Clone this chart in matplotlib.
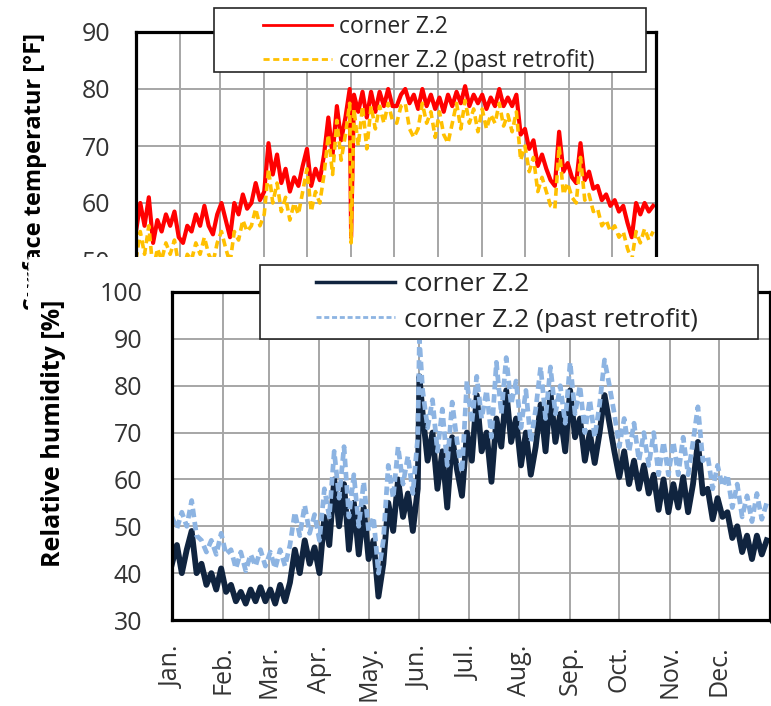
import numpy as np
import matplotlib
matplotlib.use("Agg")
import matplotlib.pyplot as plt
from matplotlib.patches import Rectangle
from matplotlib.lines import Line2D

plt.rcParams['font.family'] = ['Open Sans', 'DejaVu Sans']

W, H = 771, 706

days = np.arange(0, 366, 3)
month_start = [0, 31, 59, 90, 120, 151, 181, 212, 243, 273, 304, 334, 365]
month_names = ['Jan.', 'Feb.', 'Mar.', 'Apr.', 'May.', 'Jun.', 'Jul.',
               'Aug.', 'Sep.', 'Oct.', 'Nov.', 'Dec.']

temp_base = [
    55, 60, 56, 61, 53, 57, 55, 58, 56, 58.5,
    54, 53, 56, 55, 58, 56, 59.5, 56, 54.5, 58,
    60, 57, 54, 60, 58, 61.5, 59, 60, 63.5, 60.5,
    62, 70.5, 65, 68.5, 63.5, 66, 62, 64.5, 63, 66.5,
    69.5, 63, 66, 64, 68.5, 75, 68.5, 77, 71, 75,
    80, 79, 76, 79.5, 75, 79.5, 76, 79.5, 77, 80,
    77, 77, 79, 80, 77.5, 79, 76.5, 80, 77, 79,
    76.5, 78.5, 76, 79, 77, 79.5, 77.5, 80.5, 77, 79,
    77.5, 79, 76.5, 78.5, 77, 80, 77, 78.5, 77, 79,
    72, 73, 69.5, 71, 66.5, 68.5, 66, 64, 63, 72.5,
    65.5, 67, 64.5, 63.5, 70.5, 64, 65.5, 62.5, 63, 60.5,
    61.5, 59.5, 60.5, 58.5, 59.5, 56.5, 54, 60, 58, 60,
    58.5, 59.5]

temp_retro = [
    50, 55, 51, 56, 48, 52, 50, 53, 51, 53.5,
    49, 48, 51, 50, 53, 51, 54, 51, 49.5, 53,
    55, 52, 49.5, 55, 53.5, 57, 55, 56, 59, 56,
    58, 66, 60, 63.5, 58.5, 61, 57, 60, 58, 62,
    66, 58.5, 62, 60, 65, 72, 65, 74.5, 67.5, 72,
    77.5, 76.5, 70, 77, 69.5, 77, 73, 77, 74, 77.5,
    74.5, 74, 77, 77.5, 73, 71.5, 73, 77.5, 74, 76,
    71.5, 76, 72, 70.5, 74, 77.5, 73, 78, 74, 76.5,
    72.5, 76.5, 73, 75.5, 74, 77.5, 73.5, 75.5, 72.5, 76,
    67.5, 70, 65.5, 68, 62, 64.5, 62, 59.5, 59, 70,
    61.5, 63.5, 61, 60, 68, 60.5, 61.5, 58.5, 59, 56,
    57, 55, 56, 54, 55, 52, 50, 55, 53, 55.5,
    53.5, 55]

rh_base = [
    42, 46, 40, 45, 49, 40, 42, 37.5, 40, 36.5,
    41, 36, 37.5, 34, 36, 33.5, 36.5, 34, 37, 34,
    36.5, 33.5, 37.5, 34, 38, 45, 40, 47, 42, 45.5,
    40, 52, 46, 60, 50, 59, 45, 55, 44, 54,
    43, 47, 35, 42, 55, 49, 60, 52, 57, 49,
    58, 74, 64, 70, 58, 66, 54, 69, 62, 56.5,
    70, 64, 78, 66, 70, 59.5, 73, 67, 79, 68,
    73, 63, 70, 61, 67, 76, 66, 78.5, 68, 74,
    66, 79, 69, 73, 64, 70, 63.5, 70, 78, 72,
    66, 60.5, 66, 59, 64, 58, 63, 57, 61, 53.5,
    60, 53, 59, 54, 60.5, 53, 59, 68, 57, 58,
    51.5, 56, 52, 53, 47.5, 50, 44.5, 48, 43, 48,
    44, 47]

rh_retro = [
    52, 49.5, 53, 50, 55.5, 48, 47, 44.5, 47, 44,
    48.5, 44, 45, 41, 44.5, 40.5, 44, 41.5, 45, 41.5,
    44.5, 41, 45, 41.5, 46, 53, 48, 54.5, 48.5, 52.5,
    47, 58, 52, 66, 56, 67, 52, 61, 50, 59.5,
    49, 52, 40, 47, 63, 56, 67, 59, 65, 57,
    69, 79, 71, 77, 66, 75, 63, 76.5, 68, 61.5,
    81, 72, 82, 73, 79, 69, 85, 74, 86, 76,
    81, 71, 79, 68, 75, 84, 73, 84, 74, 80,
    72, 85, 74, 80, 70, 77, 69, 76, 85.5, 80,
    74, 67, 73, 66, 72, 64, 70, 63, 70, 61,
    68, 61, 68, 61, 69, 61, 68, 75.5, 64, 65,
    58, 63, 58.5, 61, 54, 59, 52, 56.5, 51, 57,
    51.5, 55]

# short spike on 1 June
spike_day = 151
temp_spike = [54, 53]
rh_spike = [82, 90]

labels = ['corner Z.2', 'corner Z.2 (past retrofit)']


def with_spike(vals, v):
    i = np.searchsorted(days, spike_day)
    return np.insert(days.astype(float), i, spike_day), np.insert(np.array(vals, float), i, v)


def px(x0, y0, x1, y1):
    return [x0 / W, 1 - y1 / H, (x1 - x0) / W, (y1 - y0) / H]


def frame_box(ax, x0, y0, x1, y1):
    r = Rectangle((x0 / W, 1 - y1 / H), (x1 - x0) / W, (y1 - y0) / H,
                  transform=fig.transFigure, facecolor='white',
                  edgecolor='#262626', lw=1.2, zorder=4.5, clip_on=False)
    ax.add_patch(r)


def style(ax):
    ax.grid(True, color='#A6A6A6', lw=1.4)
    for s in ax.spines.values():
        s.set_linewidth(2.3)
        s.set_color('black')
    ax.tick_params(length=0, labelcolor='#333333')


fig = plt.figure(figsize=(W / 100, H / 100), dpi=100)

# top chart: surface temperature (mostly hidden under the humidity chart)
ax1 = fig.add_axes(px(136, 32, 656, 317))
x, y = with_spike(temp_base, temp_spike[0])
ax1.plot(x, y, color='#FF0000', lw=3, label=labels[0])
x, y = with_spike(temp_retro, temp_spike[1])
ax1.plot(x, y, color='#FFC000', lw=2.6, ls=(0, (2.2, 1.3)), label=labels[1])
ax1.set_xlim(0, 365)
ax1.set_ylim(40, 90)
ax1.set_xticks(month_start)
ax1.set_xticklabels([])
ax1.set_yticks(range(40, 91, 10))
style(ax1)
ax1.tick_params(axis='y', labelsize=18, pad=18.5)
frame_box(ax1, 214, 8, 646, 72)
leg1 = ax1.legend(loc='upper left', bbox_to_anchor=(263 / W, 1 - 15 / H),
                  bbox_transform=fig.transFigure, frameon=False, borderpad=0,
                  borderaxespad=0, handlelength=3.0, handletextpad=0.3,
                  labelspacing=0.45, fontsize=16.5, labelcolor='#262626')
for h in leg1.get_lines():
    h.set_linewidth(2)

fig.text(35 / W, 1 - 33 / H, 'Surface temperatur [°F]', rotation=90,
         ha='center', va='top', fontsize=17, fontweight='bold', zorder=0.5)

# white cover under the inserted humidity chart
fig.add_artist(Rectangle((28 / W, 0), 1 - 28 / W, 1 - 257 / H,
                         transform=fig.transFigure, facecolor='white',
                         edgecolor='none', zorder=1))
fig.add_artist(Line2D([28 / W, 28 / W], [1 - 256 / H, 1 - 286 / H],
                      transform=fig.transFigure, color='#A0A0A0', lw=0.8,
                      ls=(0, (3, 2)), zorder=1.5))

# bottom chart: relative humidity
ax2 = fig.add_axes(px(172, 292, 770, 620))
ax2.set_zorder(2)
x, y = with_spike(rh_base, rh_spike[0])
ax2.plot(x, y, color='#10243F', lw=4.2, label=labels[0])
x, y = with_spike(rh_retro, rh_spike[1])
ax2.plot(x, y, color='#8DB4E2', lw=3.4, ls=(0, (1.8, 1.0)), label=labels[1])
ax2.set_xlim(0, 365)
ax2.set_ylim(30, 100)
ax2.set_yticks(range(30, 101, 10))
ax2.set_xticks(month_start[:-1])
ax2.set_xticklabels(month_names, rotation=90, ha='center', va='top')
style(ax2)
ax2.set_xticks(month_start, minor=True)
ax2.grid(True, which='minor', color='#A6A6A6', lw=1.4)
ax2.tick_params(axis='y', labelsize=18, pad=21.5)
ax2.tick_params(axis='x', labelsize=18, pad=18, which='major')
frame_box(ax2, 260, 265, 758, 339)
leg2 = ax2.legend(loc='upper left', bbox_to_anchor=(316 / W, 1 - 272 / H),
                  bbox_transform=fig.transFigure, frameon=False, borderpad=0,
                  borderaxespad=0, handlelength=3.0, handletextpad=0.35,
                  labelspacing=0.4, fontsize=19, labelcolor='#262626')
leg2.get_lines()[0].set_linewidth(2.5)
leg2.get_lines()[1].set_linewidth(2)

fig.text(53 / W, 1 - 433 / H, 'Relative humidity [%]', rotation=90,
         ha='center', va='center', fontsize=18, fontweight='bold', zorder=3)

fig.savefig('out.png', dpi=100)
